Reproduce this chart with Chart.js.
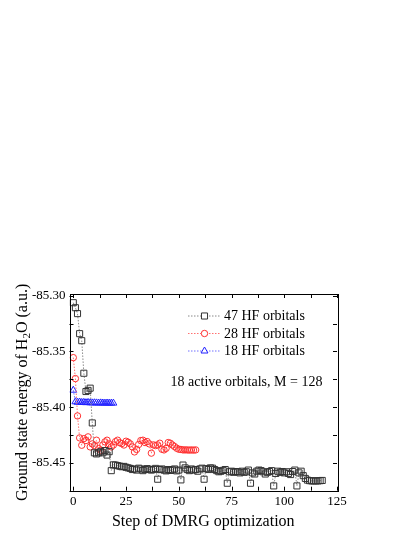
<!DOCTYPE html>
<html>
<head>
<meta charset="utf-8">
<script src="https://cdn.jsdelivr.net/npm/chart.js@4"></script>
<style>
  html, body { margin: 0; padding: 0; background: #fff; }
  canvas { display: block; }
</style>
</head>
<body>
<canvas id="myChart" width="415" height="537"></canvas>
<script>
// tick labels
const xTicks = [0, 25, 50, 75, 100, 125];
const yTicks = [-85.30, -85.35, -85.40, -85.45];

// legend text
const seriesNames = ['47 HF orbitals', '28 HF orbitals', '18 HF orbitals'];

// 47 HF orbitals (squares), step 0..118
const steps47 = Array.from({ length: 119 }, (_, i) => i);
const energy47 = [
  -85.3063, -85.3108, -85.3161, -85.3341, -85.3404, -85.3696, -85.3860, -85.3850, -85.3830, -85.4142,
  -85.4410, -85.4420, -85.4410, -85.4400, -85.4410, -85.4390, -85.4430, -85.4400, -85.4570, -85.4518,
  -85.4520, -85.4525, -85.4530, -85.4535, -85.4532, -85.4540, -85.4545, -85.4550, -85.4560, -85.4555,
  -85.4565, -85.4548, -85.4555, -85.4570, -85.4560, -85.4552, -85.4558, -85.4565, -85.4560, -85.4550,
  -85.4647, -85.4560, -85.4555, -85.4565, -85.4572, -85.4560, -85.4568, -85.4562, -85.4555, -85.4572,
  -85.4565, -85.4653, -85.4520, -85.4545, -85.4560, -85.4570, -85.4555, -85.4565, -85.4560, -85.4575,
  -85.4555, -85.4548, -85.4647, -85.4552, -85.4560, -85.4545, -85.4548, -85.4560, -85.4570, -85.4580,
  -85.4575, -85.4568, -85.4560, -85.4683, -85.4580, -85.4575, -85.4585, -85.4578, -85.4580, -85.4590,
  -85.4575, -85.4585, -85.4580, -85.4565, -85.4683, -85.4590, -85.4600, -85.4575, -85.4565, -85.4570,
  -85.4580, -85.4600, -85.4585, -85.4578, -85.4570, -85.4707, -85.4595, -85.4575, -85.4585, -85.4578,
  -85.4590, -85.4580, -85.4595, -85.4605, -85.4578, -85.4565, -85.4707, -85.4590, -85.4575, -85.4615,
  -85.4640, -85.4655, -85.4660, -85.4662, -85.4662, -85.4662, -85.4662, -85.4660, -85.4658
];

// 28 HF orbitals (circles), step 0..58
const steps28 = Array.from({ length: 59 }, (_, i) => i);
const energy28 = [
  -85.3556, -85.3744, -85.4079, -85.4276, -85.4342, -85.4283, -85.4300, -85.4267, -85.4357, -85.4330,
  -85.4345, -85.4297, -85.4372, -85.4387, -85.4340, -85.4312, -85.4297, -85.4330, -85.4357, -85.4340,
  -85.4310, -85.4297, -85.4320, -85.4327, -85.4340, -85.4306, -85.4315, -85.4330, -85.4357, -85.4402,
  -85.4380, -85.4335, -85.4300, -85.4297, -85.4318, -85.4309, -85.4330, -85.4413, -85.4339, -85.4345,
  -85.4339, -85.4324, -85.4378, -85.4384, -85.4370, -85.4318, -85.4324, -85.4340, -85.4354, -85.4369,
  -85.4378, -85.4380, -85.4384, -85.4384, -85.4384, -85.4386, -85.4384, -85.4386, -85.4384
];

// 18 HF orbitals (triangles), step 0..19
const steps18 = Array.from({ length: 20 }, (_, i) => i);
const energy18 = [
  -85.3848, -85.3952, -85.3956, -85.3954, -85.3958, -85.3957, -85.3960, -85.3958, -85.3961, -85.3962,
  -85.3961, -85.3962, -85.3963, -85.3962, -85.3963, -85.3964, -85.3963, -85.3964, -85.3964, -85.3964
];

const SERIF = '"Liberation Serif", "Times New Roman", serif';

function toPoints(xs, ys) {
  return xs.map((x, i) => ({ x: x, y: ys[i] }));
}

const datasets = [
  {
    label: seriesNames[0],
    data: toPoints(steps47, energy47),
    pointStyle: 'rect', pointRadius: 4.3, borderWidth: 1,
    pointBorderColor: '#333', pointBackgroundColor: 'rgba(0,0,0,0)',
    borderColor: '#888', lineColor: '#888'
  },
  {
    label: seriesNames[1],
    data: toPoints(steps28, energy28),
    pointStyle: 'circle', pointRadius: 3.2, borderWidth: 1,
    pointBorderColor: '#ff3030', pointBackgroundColor: 'rgba(0,0,0,0)',
    borderColor: '#ff7070', lineColor: '#ff7070'
  },
  {
    label: seriesNames[2],
    data: toPoints(steps18, energy18),
    pointStyle: 'triangle', pointRadius: 4, borderWidth: 1,
    pointBorderColor: '#2020ff', pointBackgroundColor: 'rgba(0,0,0,0)',
    borderColor: '#7070ff', lineColor: '#7070ff'
  }
].map(d => Object.assign(d, { showLine: true, borderDash: [1.5, 1.5], pointBorderWidth: 1, pointHoverRadius: 0 }));

// frame, inside ticks, titles, legend, note
const decor = {
  id: 'decor',
  afterDraw(chart) {
    const ctx = chart.ctx;
    const a = chart.chartArea;
    const xs = chart.scales.x, ys = chart.scales.y;
    ctx.save();
    ctx.strokeStyle = '#000';
    ctx.lineWidth = 1;
    ctx.strokeRect(Math.round(a.left) + 0.5, Math.round(a.top) + 0.5, Math.round(a.right - a.left), Math.round(a.bottom - a.top));

    const xStep = (xTicks[1] - xTicks[0]) / 2;
    ctx.beginPath();
    for (let v = xTicks[0]; v <= xTicks[xTicks.length - 1] + 1e-9; v += xStep) {
      const px = Math.round(xs.getPixelForValue(v)) + 0.5;
      ctx.moveTo(px, a.bottom); ctx.lineTo(px, a.bottom - 4);
      ctx.moveTo(px, a.top); ctx.lineTo(px, a.top + 4);
    }
    const yStep = (yTicks[0] - yTicks[1]) / 2;
    for (let v = yTicks[0]; v >= ys.min - 1e-9; v -= yStep) {
      const py = Math.round(ys.getPixelForValue(v)) + 0.5;
      ctx.moveTo(a.left, py); ctx.lineTo(a.left + 4, py);
      ctx.moveTo(a.right, py); ctx.lineTo(a.right - 4, py);
    }
    ctx.stroke();

    ctx.fillStyle = '#000';
    // x title
    ctx.font = '16px ' + SERIF;
    ctx.textAlign = 'center';
    ctx.textBaseline = 'middle';
    ctx.fillText('Step of DMRG optimization', (a.left + a.right) / 2, 522);

    // y title with subscript 2
    ctx.save();
    ctx.translate(21, (a.top + a.bottom) / 2);
    ctx.rotate(-Math.PI / 2);
    const p1 = 'Ground state energy of H', sub = '2', p2 = 'O (a.u.)';
    ctx.font = '16px ' + SERIF;
    const w1 = ctx.measureText(p1).width, w3 = ctx.measureText(p2).width;
    ctx.font = '11px ' + SERIF;
    const w2 = ctx.measureText(sub).width;
    let x0 = -(w1 + w2 + w3) / 2;
    ctx.textAlign = 'left';
    ctx.textBaseline = 'alphabetic';
    ctx.font = '16px ' + SERIF;
    ctx.fillText(p1, x0, 5.5);
    ctx.font = '11px ' + SERIF;
    ctx.fillText(sub, x0 + w1, 9);
    ctx.font = '16px ' + SERIF;
    ctx.fillText(p2, x0 + w1 + w2, 5.5);
    ctx.restore();

    // legend
    const legY = [316, 333.5, 351];
    chart.data.datasets.forEach((ds, i) => {
      const y = legY[i];
      ctx.save();
      ctx.strokeStyle = ds.lineColor;
      ctx.lineWidth = 1;
      ctx.setLineDash([1.5, 1.5]);
      ctx.beginPath();
      ctx.moveTo(188, y); ctx.lineTo(221, y);
      ctx.stroke();
      ctx.restore();
      ctx.save();
      ctx.strokeStyle = ds.pointBorderColor;
      ctx.fillStyle = '#fff';
      ctx.lineWidth = 1;
      Chart.helpers.drawPoint(ctx, { pointStyle: ds.pointStyle, radius: ds.pointRadius, rotation: 0, borderWidth: 1 }, 204.5, y);
      ctx.restore();
      ctx.font = '14px ' + SERIF;
      ctx.textAlign = 'left';
      ctx.textBaseline = 'middle';
      ctx.fillStyle = '#000';
      ctx.fillText(ds.label, 224, y + 0.5);
    });

    // note
    ctx.font = '14px ' + SERIF;
    ctx.textAlign = 'center';
    ctx.fillText('18 active orbitals, M = 128', 246.5, 382.5);
    ctx.restore();
  }
};

const ctx = document.getElementById('myChart').getContext('2d');
const myChart = new Chart(ctx, {
  type: 'scatter',
  data: { datasets: datasets },
  options: {
    responsive: false,
    animation: false,
    devicePixelRatio: 1,
    layout: { padding: { left: 0, top: 294, right: 78, bottom: 0 } },
    plugins: { legend: { display: false }, tooltip: { enabled: false } },
    scales: {
      x: {
        type: 'linear', min: -1.8, max: 125,
        afterBuildTicks: s => { s.ticks = xTicks.map(v => ({ value: v })); },
        afterFit: s => { s.height = 46.3; },
        grid: { display: false, drawTicks: false },
        border: { display: false },
        ticks: { color: '#000', font: { family: SERIF, size: 13 }, padding: 3, maxRotation: 0, autoSkip: false }
      },
      y: {
        type: 'linear', min: -85.475, max: -85.2985,
        afterBuildTicks: s => { s.ticks = yTicks.map(v => ({ value: v })); },
        afterFit: s => { s.width = 69.5; },
        grid: { display: false, drawTicks: false },
        border: { display: false },
        ticks: { color: '#000', font: { family: SERIF, size: 13 }, padding: 4, callback: v => v.toFixed(2) }
      }
    }
  },
  plugins: [decor]
});
</script>
</body>
</html>
